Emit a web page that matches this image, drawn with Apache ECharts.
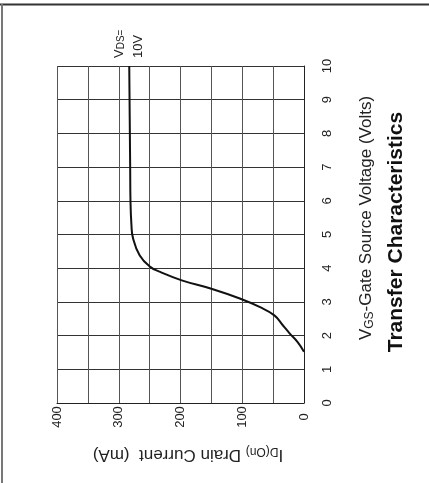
<!DOCTYPE html>
<html>
<head>
<meta charset="utf-8">
<script src="https://cdn.jsdelivr.net/npm/echarts@6/dist/echarts.min.js"></script>
<style>
html,body{margin:0;padding:0;background:#fff;}
#chart{width:429px;height:483px;}
</style>
</head>
<body>
<div id="chart"></div>
<script>
// Gate-source voltage (V) and drain current (mA)
var vgsValues = [1.52, 1.8, 2.06, 2.3, 2.6, 2.85, 3.1, 3.39, 3.64, 3.89, 4.04, 4.38, 4.9, 5.3, 6, 7, 8, 9, 10];
var idValues  = [0, 10, 23, 34, 48, 72, 104, 150, 198, 233, 249, 266, 277, 279.5, 281, 281.5, 282, 282.5, 283];
var idTicks = [0, 100, 200, 300, 400];
var vgsTicks = [0, 1, 2, 3, 4, 5, 6, 7, 8, 9, 10];

var FONT = 'Liberation Sans, Arial, sans-serif';
var chart = echarts.init(document.getElementById('chart'), null, {renderer: 'canvas'});

var pts = vgsValues.map(function (v, i) { return [idValues[i], v]; });

chart.setOption({
  backgroundColor: '#ffffff',
  animation: false,
  grid: {left: 57, right: 125, top: 66, bottom: 80},
  xAxis: {
    type: 'value', inverse: true, min: 0, max: 400, interval: 50, position: 'bottom',
    axisLine: {show: true, lineStyle: {color: '#222', width: 1}},
    axisTick: {show: false},
    splitLine: {show: true, lineStyle: {color: '#555', width: 1}},
    axisLabel: {
      rotate: 90, align: 'center', verticalAlign: 'middle', margin: 14,
      fontSize: 13, color: '#222', fontFamily: FONT,
      formatter: function (v) { return idTicks.indexOf(v) >= 0 ? String(v) : ''; }
    }
  },
  yAxis: {
    type: 'value', min: 0, max: 10, interval: 1, position: 'right',
    axisLine: {show: true, lineStyle: {color: '#222', width: 1}},
    axisTick: {show: false},
    splitLine: {show: true, lineStyle: {color: '#333', width: 1}},
    axisLabel: {
      rotate: 90, align: 'center', verticalAlign: 'middle', margin: 23,
      fontSize: 13, color: '#222', fontFamily: FONT,
      formatter: function (v) { return vgsTicks.indexOf(v) >= 0 ? String(v) : ''; }
    }
  },
  series: [{
    type: 'line', data: pts, smooth: 0.45, showSymbol: false,
    lineStyle: {color: '#111', width: 2}
  }],
  graphic: [
    {type: 'line', shape: {x1: 0, y1: 4.5, x2: 429, y2: 4.5}, style: {stroke: '#333', lineWidth: 2}},
    {type: 'line', shape: {x1: 2, y1: 4, x2: 2, y2: 483}, style: {stroke: '#777', lineWidth: 2}},
    {
      type: 'text', x: 366, y: 218, rotation: Math.PI / 2,
      style: {
        text: '{v|V}{s|GS}{v|-Gate Source Voltage (Volts)}',
        align: 'center', verticalAlign: 'middle', fill: '#222', font: '17px ' + FONT,
        rich: {
          v: {fontSize: 17, fontFamily: FONT, fill: '#222', verticalAlign: 'bottom'},
          s: {fontSize: 12, fontFamily: FONT, fill: '#222', verticalAlign: 'bottom', padding: [0, 0, -1, 0]}
        }
      }
    },
    {
      type: 'text', x: 396, y: 232, rotation: Math.PI / 2,
      style: {
        text: 'Transfer Characteristics', align: 'center', verticalAlign: 'middle',
        fill: '#111', font: 'bold 21px ' + FONT
      }
    },
    {
      type: 'text', x: 188, y: 455, rotation: Math.PI,
      style: {
        text: '{v|I}{s|D(On)}{v| Drain Current  (mA)}',
        align: 'center', verticalAlign: 'middle', fill: '#222', font: '17px ' + FONT,
        rich: {
          v: {fontSize: 17, fontFamily: FONT, fill: '#222', verticalAlign: 'bottom'},
          s: {fontSize: 12, fontFamily: FONT, fill: '#222', verticalAlign: 'bottom', padding: [0, 0, -1, 0]}
        }
      }
    },
    {
      type: 'text', x: 119, y: 58, rotation: Math.PI / 2,
      style: {
        text: '{v|V}{s|DS=}', align: 'left', verticalAlign: 'middle', fill: '#222', font: '13px ' + FONT,
        rich: {
          v: {fontSize: 13, fontFamily: FONT, fill: '#222', verticalAlign: 'bottom'},
          s: {fontSize: 10, fontFamily: FONT, fill: '#222', verticalAlign: 'bottom', padding: [0, 0, -1, 0]}
        }
      }
    },
    {
      type: 'text', x: 138, y: 58, rotation: Math.PI / 2,
      style: {text: '10V', align: 'left', verticalAlign: 'middle', fill: '#222', font: '13px ' + FONT}
    }
  ]
});
</script>
</body>
</html>
